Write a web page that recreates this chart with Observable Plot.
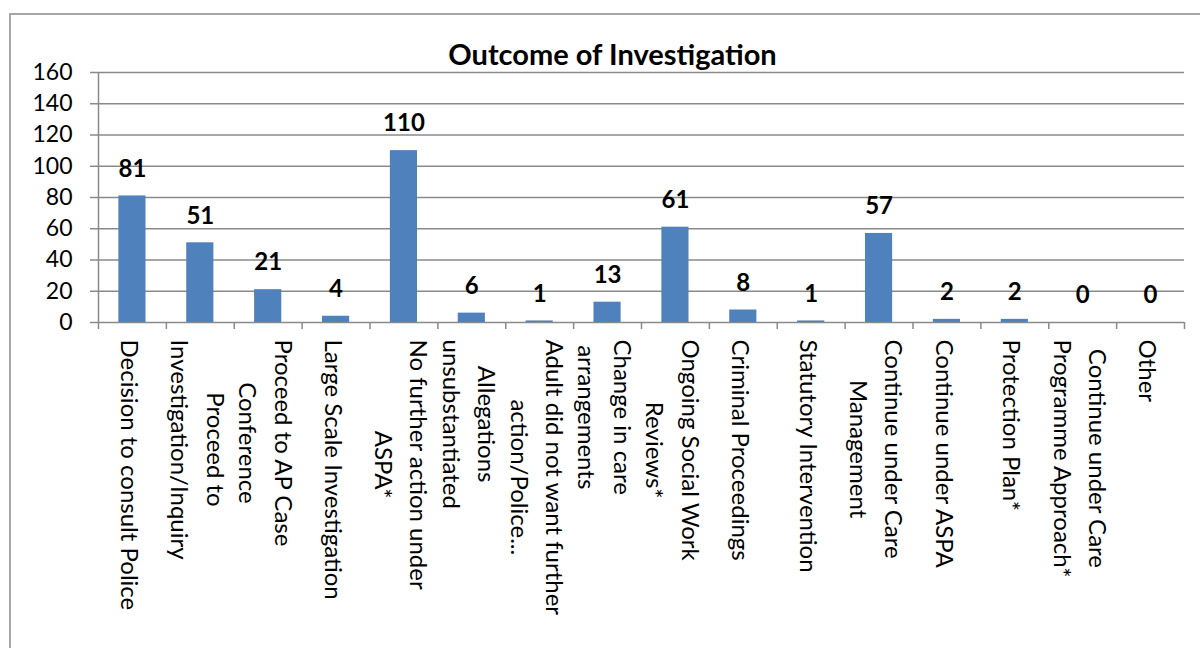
<!DOCTYPE html>
<html>
<head>
<meta charset="utf-8">
<script src="https://cdn.jsdelivr.net/npm/d3@7"></script>
<script src="https://cdn.jsdelivr.net/npm/@observablehq/plot@0.6"></script>
<style>
  html, body { margin: 0; padding: 0; background: #fff; }
  #wrap { position: relative; width: 1200px; height: 648px; overflow: hidden; background: #fff; }
  #border { position: absolute; left: 9px; top: 13px; width: 1220px; height: 680px; border: 2px solid #a6a6a6; pointer-events: none; }
  #title { position: absolute; left: 10px; width: 1205px; top: 38px; text-align: center;
           font-family: Lato, "Open Sans", sans-serif; font-weight: bold; font-size: 29px; line-height: 32px; color: #000; }
  #chart { position: absolute; left: 0; top: 0; }
</style>
</head>
<body>
<div id="wrap">
  <div id="chart"></div>
  <div id="border"></div>
  <div id="title">Outcome of Investigation</div>
</div>
<script>
const categories = [
  "Decision to consult Police",
  "Proceed to\nInvestigation/Inquiry",
  "Proceed to AP Case\nConference",
  "Large Scale Investigation",
  "No further action under\nASPA*",
  "Allegations\nunsubstantiated",
  "Adult did not want further\naction/Police...",
  "Change in care\narrangements",
  "Ongoing Social Work\nReviews*",
  "Criminal Proceedings",
  "Statutory Intervention",
  "Continue under Care\nManagement",
  "Continue under ASPA",
  "Protection Plan*",
  "Continue under Care\nProgramme Approach*",
  "Other"
];
const values = [81, 51, 21, 4, 110, 6, 1, 13, 61, 8, 1, 57, 2, 2, 0, 0];
const yTicks = [0, 20, 40, 60, 80, 100, 120, 140, 160];

const data = categories.map((c, i) => ({category: c, value: values[i]}));

const W = 1200, H = 648, mL = 98, mR = 16, mT = 72, mB = 326;
const step = (W - mL - mR) / categories.length;
const gridColor = "#8a8a8a";
const yTop = yTicks[yTicks.length - 1];

const chart = Plot.plot({
  width: W,
  height: H,
  marginLeft: mL,
  marginRight: mR,
  marginTop: mT,
  marginBottom: mB,
  style: {fontFamily: "Lato, 'Open Sans', sans-serif", background: "transparent", color: "#000"},
  x: {domain: categories, paddingInner: 0.6, paddingOuter: 0.3, round: false, axis: null},
  y: {domain: [0, yTop], label: null},
  marks: [
    Plot.ruleY(yTicks, {stroke: gridColor, strokeWidth: 1.5, insetLeft: -8}),
    Plot.ruleX(categories, {
      x: d => d,
      y1: (d, i) => i === 0 ? yTop : 0,
      y2: 0,
      insetBottom: -7,
      dx: -step / 2,
      stroke: gridColor,
      strokeWidth: 1.5
    }),
    Plot.ruleX([categories[categories.length - 1]], {
      x: d => d, y1: 0, y2: 0, insetBottom: -7, dx: step / 2,
      stroke: gridColor, strokeWidth: 1.5
    }),
    Plot.axisY(yTicks, {tickSize: 0, tickPadding: 26, fontSize: 23, fill: "#000", label: null}),
    Plot.barY(data.filter(d => d.value > 0), {x: "category", y: "value", fill: "#4f81bd"}),
    Plot.text(data, {
      x: "category", y: "value", text: d => String(d.value),
      dy: -27, fontSize: 24, fontWeight: "bold", fill: "#000"
    }),
    Plot.text(categories, {
      x: d => d,
      text: d => d,
      frameAnchor: "bottom",
      dy: 17,
      rotate: 90,
      textAnchor: "start",
      lineAnchor: "middle",
      lineHeight: 1.48,
      fontSize: 24,
      fill: "#000"
    })
  ]
});

document.getElementById("chart").appendChild(chart);

// center the lines of each multi-line category label relative to each other
function centerLines() {
  chart.querySelectorAll("text").forEach(t => {
    const spans = Array.from(t.querySelectorAll("tspan"));
    if (spans.length < 2) return;
    const lens = spans.map(s => s.getComputedTextLength());
    const max = Math.max(...lens);
    spans.forEach((s, i) => s.setAttribute("x", String((max - lens[i]) / 2)));
  });
}
centerLines();
if (document.fonts && document.fonts.ready) document.fonts.ready.then(centerLines);
</script>
</body>
</html>
